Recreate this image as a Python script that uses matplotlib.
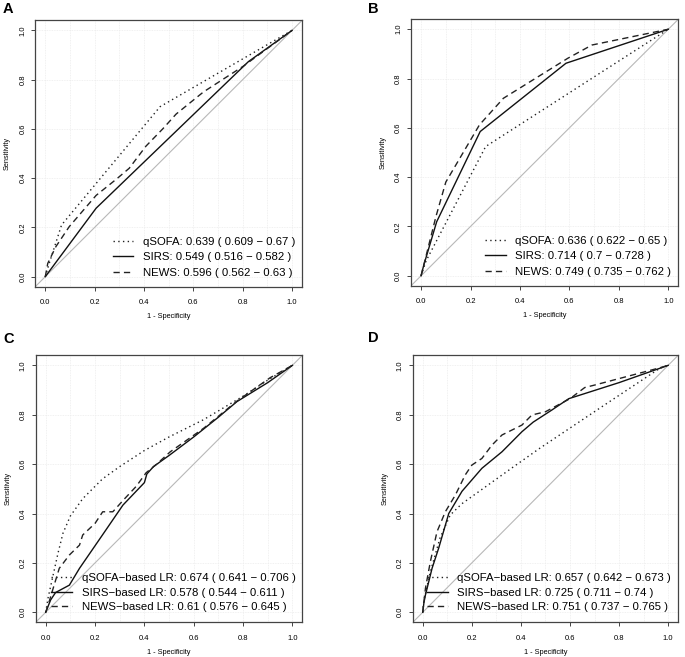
import numpy as np
import matplotlib
matplotlib.use("Agg")
import matplotlib.pyplot as plt

plt.rcParams['font.family'] = ['Liberation Sans', 'DejaVu Sans']

# ROC points (1 - specificity, sensitivity)
# panel A
a_qsofa_fpr = [0, 0.016, 0.066, 0.465, 1]
a_qsofa_tpr = [0, 0.054, 0.21, 0.69, 1]
a_sirs_fpr = [0, 0.206, 0.823, 1]
a_sirs_tpr = [0, 0.278, 0.873, 1]
a_news_fpr = [0, 0.01, 0.043, 0.097, 0.206, 0.287, 0.34, 0.408, 0.476, 0.53, 0.641, 0.803, 0.83, 1]
a_news_tpr = [0, 0.054, 0.122, 0.203, 0.33, 0.395, 0.44, 0.53, 0.6, 0.66, 0.75, 0.855, 0.875, 1]
# panel B
b_qsofa_fpr = [0, 0.02, 0.261, 1]
b_qsofa_tpr = [0, 0.06, 0.524, 1]
b_sirs_fpr = [0, 0.01, 0.063, 0.239, 0.586, 1]
b_sirs_tpr = [0, 0.04, 0.219, 0.585, 0.862, 1]
b_news_fpr = [0, 0.02, 0.06, 0.1, 0.236, 0.333, 0.593, 0.691, 1]
b_news_tpr = [0, 0.08, 0.24, 0.38, 0.612, 0.72, 0.882, 0.936, 1]
# panel C
c_qsofa_fpr = [0, 0.01, 0.03, 0.05, 0.07, 0.1, 0.15, 0.23, 0.3, 0.4, 0.5, 0.64, 0.8, 0.9, 1]
c_qsofa_tpr = [0, 0.06, 0.15, 0.24, 0.32, 0.39, 0.46, 0.54, 0.59, 0.655, 0.71, 0.78, 0.875, 0.94, 1]
c_sirs_fpr = [0, 0.02, 0.04, 0.096, 0.137, 0.23, 0.313, 0.4, 0.41, 0.437, 0.5, 0.6, 0.7, 0.775, 0.9, 1]
c_sirs_tpr = [0, 0.05, 0.08, 0.11, 0.178, 0.313, 0.434, 0.525, 0.56, 0.59, 0.635, 0.71, 0.79, 0.853, 0.93, 1]
c_news_fpr = [0, 0.01, 0.022, 0.055, 0.096, 0.137, 0.15, 0.2, 0.231, 0.272, 0.32, 0.367, 0.407,
              0.45, 0.505, 0.64, 0.775, 0.91, 1]
c_news_tpr = [0, 0.03, 0.07, 0.178, 0.232, 0.272, 0.313, 0.36, 0.407, 0.407, 0.46, 0.51, 0.565,
              0.6, 0.65, 0.745, 0.855, 0.95, 1]
# panel D
d_qsofa_fpr = [0, 0.005, 0.03, 0.07, 0.112, 0.16, 0.364, 0.478, 0.749, 0.966, 1]
d_qsofa_tpr = [0, 0.05, 0.16, 0.3, 0.394, 0.44, 0.585, 0.665, 0.845, 0.988, 1]
d_sirs_fpr = [0, 0.005, 0.011, 0.038, 0.065, 0.106, 0.16, 0.241, 0.323, 0.404, 0.45, 0.526, 0.595, 0.8, 0.966, 1]
d_sirs_tpr = [0, 0.04, 0.07, 0.178, 0.26, 0.4, 0.49, 0.583, 0.65, 0.731, 0.77, 0.819, 0.865, 0.93, 0.988, 1]
d_news_fpr = [0, 0.011, 0.031, 0.058, 0.092, 0.133, 0.173, 0.2, 0.241, 0.282, 0.323, 0.404, 0.445,
              0.5, 0.526, 0.6, 0.66, 0.7, 0.966, 1]
d_news_tpr = [0, 0.097, 0.205, 0.326, 0.407, 0.475, 0.556, 0.596, 0.623, 0.677, 0.718, 0.758, 0.799,
              0.812, 0.826, 0.865, 0.91, 0.92, 0.99, 1]

labels_ab = ["qSOFA", "SIRS", "NEWS"]
labels_cd = ["qSOFA\u2212based LR", "SIRS\u2212based LR", "NEWS\u2212based LR"]
auc_a = ["0.639 ( 0.609 \u2212 0.67 )", "0.549 ( 0.516 \u2212 0.582 )", "0.596 ( 0.562 \u2212 0.63 )"]
auc_b = ["0.636 ( 0.622 \u2212 0.65 )", "0.714 ( 0.7 \u2212 0.728 )", "0.749 ( 0.735 \u2212 0.762 )"]
auc_c = ["0.674 ( 0.641 \u2212 0.706 )", "0.578 ( 0.544 \u2212 0.611 )", "0.61 ( 0.576 \u2212 0.645 )"]
auc_d = ["0.657 ( 0.642 \u2212 0.673 )", "0.725 ( 0.711 \u2212 0.74 )", "0.751 ( 0.737 \u2212 0.765 )"]

# letter, axes rect, letter xy, labels, aucs, curves, legend spacing, legend lift
panels = [
    ("A", [0.0517, 0.5639, 0.3891, 0.4049], (0.0121, 0.9858), labels_ab, auc_a,
     [(a_qsofa_fpr, a_qsofa_tpr), (a_sirs_fpr, a_sirs_tpr), (a_news_fpr, a_news_tpr)], 0.5, 0.006),
    ("B", [0.6003, 0.5653, 0.3898, 0.4052], (0.5445, 0.9858), labels_ab, auc_b,
     [(b_qsofa_fpr, b_qsofa_tpr), (b_sirs_fpr, b_sirs_tpr), (b_news_fpr, b_news_tpr)], 0.5, 0.006),
    ("C", [0.0523, 0.0530, 0.3890, 0.4060], (0.0121, 0.484), labels_cd, auc_c,
     [(c_qsofa_fpr, c_qsofa_tpr), (c_sirs_fpr, c_sirs_tpr), (c_news_fpr, c_news_tpr)], 0.4, 0.011),
    ("D", [0.6028, 0.0530, 0.3870, 0.4060], (0.5450, 0.4855), labels_cd, auc_d,
     [(d_qsofa_fpr, d_qsofa_tpr), (d_sirs_fpr, d_sirs_tpr), (d_news_fpr, d_news_tpr)], 0.4, 0.011),
]

styles = [dict(ls=(0, (1, 2.4)), lw=1.0, color='#222222'),
          dict(ls='-', lw=1.0, color='#111111'),
          dict(ls=(0, (4.5, 3)), lw=1.0, color='#222222')]

fig = plt.figure(figsize=(6.85, 6.57), dpi=100)

for letter, pos, lxy, labs, aucs, curves, lspace, lift in panels:
    ax = fig.add_axes(pos)
    ax.set_xlim(-0.04, 1.04)
    ax.set_ylim(-0.04, 1.04)
    # faint grid
    for g in np.arange(0, 1.01, 0.1):
        ax.axvline(g, color='#ececec', lw=0.6, ls=(0, (1, 1)), zorder=0)
    for g in np.arange(0, 1.01, 0.2):
        ax.axhline(g, color='#ececec', lw=0.6, ls=(0, (1, 1)), zorder=0)
    ax.axline((0, 0), (1, 1), color='#b8b8b8', lw=0.8, zorder=1)
    for (fpr, tpr), st, lab, auc in zip(curves, styles, labs, aucs):
        ax.plot(fpr, tpr, label=f"{lab}: {auc}", zorder=3, **st)
    ticks = [0.0, 0.2, 0.4, 0.6, 0.8, 1.0]
    ax.set_xticks(ticks)
    ax.set_yticks(ticks)
    ax.set_xticklabels([f"{t:.1f}" for t in ticks])
    ax.set_yticklabels([f"{t:.1f}" for t in ticks], rotation=90, va='center')
    ax.tick_params(length=3, width=0.7, color='#444444', labelsize=5.5)
    ax.tick_params(axis='x', pad=6)
    ax.tick_params(axis='y', pad=3.5)
    for s in ax.spines.values():
        s.set_color('#444444')
        s.set_linewidth(0.9)
    ax.set_xlabel("1 - Specificity", fontsize=5.3, labelpad=5)
    ax.set_ylabel("Sensitivity", fontsize=5.3, labelpad=6)
    ax.legend(loc='lower right', bbox_to_anchor=(1.0, lift), frameon=False, fontsize=8.2,
              handlelength=1.8, handletextpad=0.85, borderaxespad=0.2, borderpad=0.4,
              labelspacing=lspace)
    fig.text(lxy[0], lxy[1], letter, fontsize=10.5, fontweight='bold',
             ha='center', va='center')

fig.savefig("out.png", dpi=100, facecolor='white')
